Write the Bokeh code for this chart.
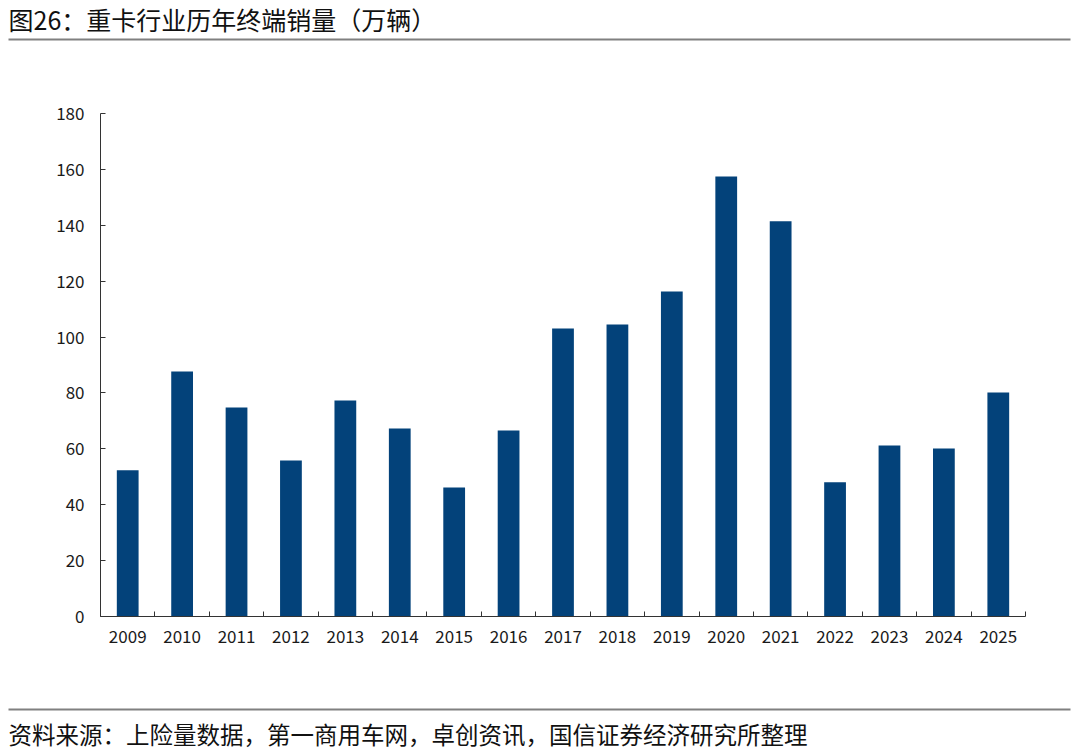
from bokeh.plotting import figure
from bokeh.models import Range1d, FixedTicker
from bokeh.layouts import column
from bokeh.core.properties import value
from bokeh.embed import file_html
from bokeh.resources import INLINE

# ---- data ----
years = ["2009", "2010", "2011", "2012", "2013", "2014", "2015", "2016", "2017",
         "2018", "2019", "2020", "2021", "2022", "2023", "2024", "2025"]
sales = [52.3, 87.7, 74.8, 55.8, 77.3, 67.3, 46.2, 66.6, 103.1,
         104.5, 116.3, 157.5, 141.4, 48.0, 61.2, 60.1, 80.2]
y_ticks = [0, 20, 40, 60, 80, 100, 120, 140, 160, 180]
title_text = "图26：重卡行业历年终端销量（万辆）"
source_text = "资料来源：上险量数据，第一商用车网，卓创资讯，国信证券经济研究所整理"

FONT = "Noto Sans CJK SC"
BAR = "#03427A"
TXT = "#1a1a1a"
W = 1072


def blank(height):
    f = figure(width=W, height=height, x_range=Range1d(0, W), y_range=Range1d(0, height),
               output_backend="svg", toolbar_location=None,
               x_axis_location=None, y_axis_location=None, min_border=0)
    f.grid.visible = False
    f.outline_line_color = None
    return f


# ---- header ----
head = blank(44)
head.text(x=[8], y=[26], text=[title_text], text_font=value(FONT), text_font_size="25px",
          text_baseline="middle", text_color="#111111")
head.segment(x0=[8], y0=[5], x1=[1070], y1=[5], line_color="#808080", line_width=2)

# ---- main chart ----
idx = list(range(len(years)))
p = figure(width=W, height=656, output_backend="svg", toolbar_location=None,
           x_range=Range1d(-0.5, len(years) - 0.5), y_range=Range1d(0, 180),
           min_border_left=100, min_border_right=47, min_border_top=69, min_border_bottom=84)
p.vbar(x=idx, top=sales, width=0.4, fill_color=BAR, line_color=None)
p.grid.visible = False
p.outline_line_color = None

xa = p.xaxis[0]
xa.ticker = FixedTicker(ticks=idx, minor_ticks=[i - 0.5 for i in range(len(years) + 1)])
xa.major_label_overrides = {i: y for i, y in zip(idx, years)}
xa.major_tick_in = 0
xa.major_tick_out = 0
xa.minor_tick_in = 5
xa.minor_tick_out = 0
xa.minor_tick_line_color = "#333333"
xa.axis_line_color = "#333333"
xa.major_label_standoff = 13

ya = p.yaxis[0]
ya.ticker = FixedTicker(ticks=y_ticks)
ya.major_tick_in = 5
ya.major_tick_out = 0
ya.minor_tick_line_color = None
ya.axis_line_color = "#333333"
ya.major_tick_line_color = "#333333"
ya.major_label_standoff = 16

for ax in (xa, ya):
    ax.major_label_text_font = FONT
    ax.major_label_text_font_size = "17px"
    ax.major_label_text_color = TXT

# ---- footer ----
foot = blank(51)
foot.segment(x0=[8], y0=[42], x1=[1070], y1=[42], line_color="#808080", line_width=2)
foot.text(x=[8], y=[18], text=[source_text], text_font=value(FONT), text_font_size="23.5px",
          text_baseline="middle", text_color="#111111")

layout = column(head, column(p), foot)
open("out.html", "w").write(file_html(layout, INLINE))
